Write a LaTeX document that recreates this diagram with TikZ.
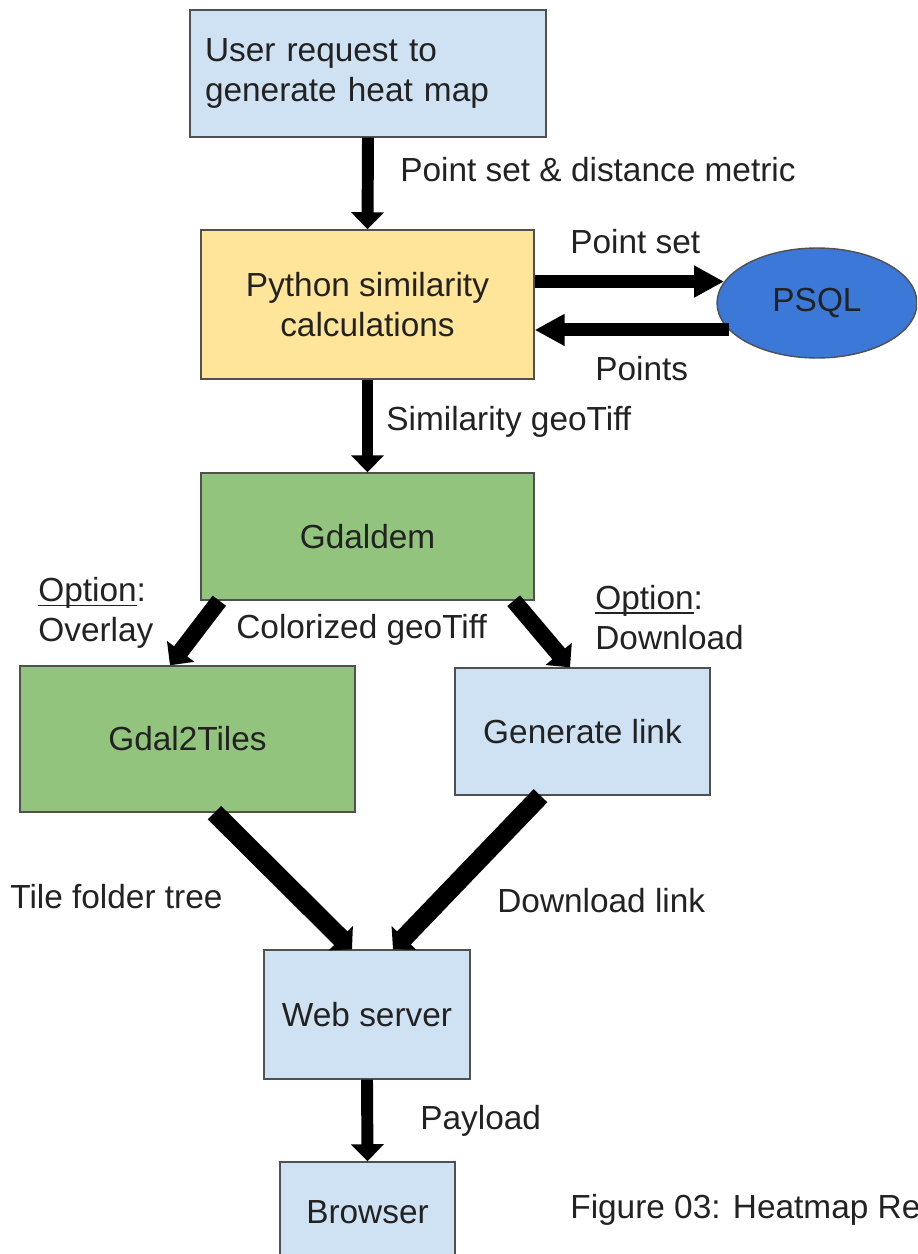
\documentclass[tikz,border=0pt]{standalone}
\usepackage{fontspec}
\setmainfont{Liberation Sans}
\usetikzlibrary{arrows.meta,shapes.geometric,calc}
\definecolor{lblue}{HTML}{CFE2F3}
\definecolor{lyellow}{HTML}{FFE599}
\definecolor{lgreen}{HTML}{93C47D}
\definecolor{pblue}{HTML}{3C78D8}
\definecolor{txt}{HTML}{222222}
\definecolor{edge}{HTML}{505050}
\newcommand\myul[1]{\setbox0\hbox{#1}\rlap{\rule[-2.2pt]{\wd0}{0.7pt}}#1}
\begin{document}
\begin{tikzpicture}[x=0.02cm,y=-0.02cm,
  font=\fontsize{19}{22.5}\selectfont, text=txt,
  box/.style={draw=edge, line width=0.8pt, inner sep=0pt, align=center},
  lbl/.style={anchor=west, inner sep=0pt, align=left},
  varrow/.style={line width=6.8pt, -{Triangle[length=9.7pt,width=18.2pt]}},
  harrow/.style={line width=7.4pt, -{Triangle[length=17pt,width=17pt]}},
  darrow/.style={line width=9.5pt, -{Triangle[length=10pt,width=19pt]}},
  dlarrow/.style={line width=10.8pt, -{Triangle[length=9pt,width=19pt]}}]
\useasboundingbox (0,0) rectangle (917,1254);
\clip (0,0) rectangle (917,1254);

% boxes
\node[box, fill=lblue, minimum width=7.12cm, minimum height=2.54cm,
      text width=6.52cm, align=left] (b1) at (368,73.5)
      {User request to\\generate heat map};
\node[box, fill=lyellow, minimum width=6.66cm, minimum height=2.98cm] (b2) at (367.5,304.5)
      {Python similarity\\calculations};
\node[draw=edge, line width=0.8pt, fill=pblue, ellipse, inner sep=0pt,
      minimum width=4.0cm, minimum height=2.2cm] (psql) at (817,303) {PSQL};
\node[box, fill=lgreen, minimum width=6.66cm, minimum height=2.54cm] (b3) at (367.5,536.5)
      {Gdaldem};
\node[box, fill=lgreen, minimum width=6.7cm, minimum height=2.92cm] (b4) at (187.5,739)
      {Gdal2Tiles};
\node[box, fill=lblue, minimum width=5.1cm, minimum height=2.54cm] (b5) at (582.5,731.5)
      {Generate link};
\node[box, fill=lblue, minimum width=4.12cm, minimum height=2.58cm] (b6) at (367,1014.5)
      {Web server};
\node[box, fill=lblue, minimum width=3.5cm, minimum height=2.0cm] (b7) at (367.5,1212)
      {Browser};

% connectors
\draw[varrow] (b1.south) -- (b2.north);
\draw[harrow] (b2.east |- psql.167) -- (psql.167);
\draw[harrow] (psql.197) -- (b2.east |- psql.197);
\draw[varrow] (b2.south) -- (b3.north);
\draw[darrow] ($(b3.south west)+(19,0)$) -- ($(b4.north)+(-17.5,0)$);
\draw[darrow] ($(b3.south east)+(-21,0)$) -- ($(b5.north)+(-12.5,0)$);
\draw[dlarrow] ($(b4.south)+(27,0)$) -- ($(b6.north)+(-15,0)$);
\draw[dlarrow] ($(b5.south)+(-42,0)$) -- ($(b6.north)+(26,0)$);
\draw[varrow] (b6.south) -- (b7.north);

% labels
\node[lbl] (l1) at (400,170) {Point set \& distance metric};
\node[lbl] (l2) at (570,242) {Point set};
\node[lbl] (l3) at (595,369) {Points};
\node[lbl] (l4) at (386,422) {Similarity geoTiff};
\node[lbl] (l5) at (38,613) {\myul{Option}:\\Overlay};
\node[lbl] (l6) at (236,630) {Colorized geoTiff};
\node[lbl] (l7) at (595,617.5) {\myul{Option}:\\Download};
\node[lbl] (l8) at (10,897) {Tile folder tree};
\node[lbl] (l9) at (497,901) {Download link};
\node[lbl] (l10) at (420,1121) {Payload};
\node[lbl] (l11) at (570,1210) {Figure 03: Heatmap Re};
\end{tikzpicture}
\end{document}
